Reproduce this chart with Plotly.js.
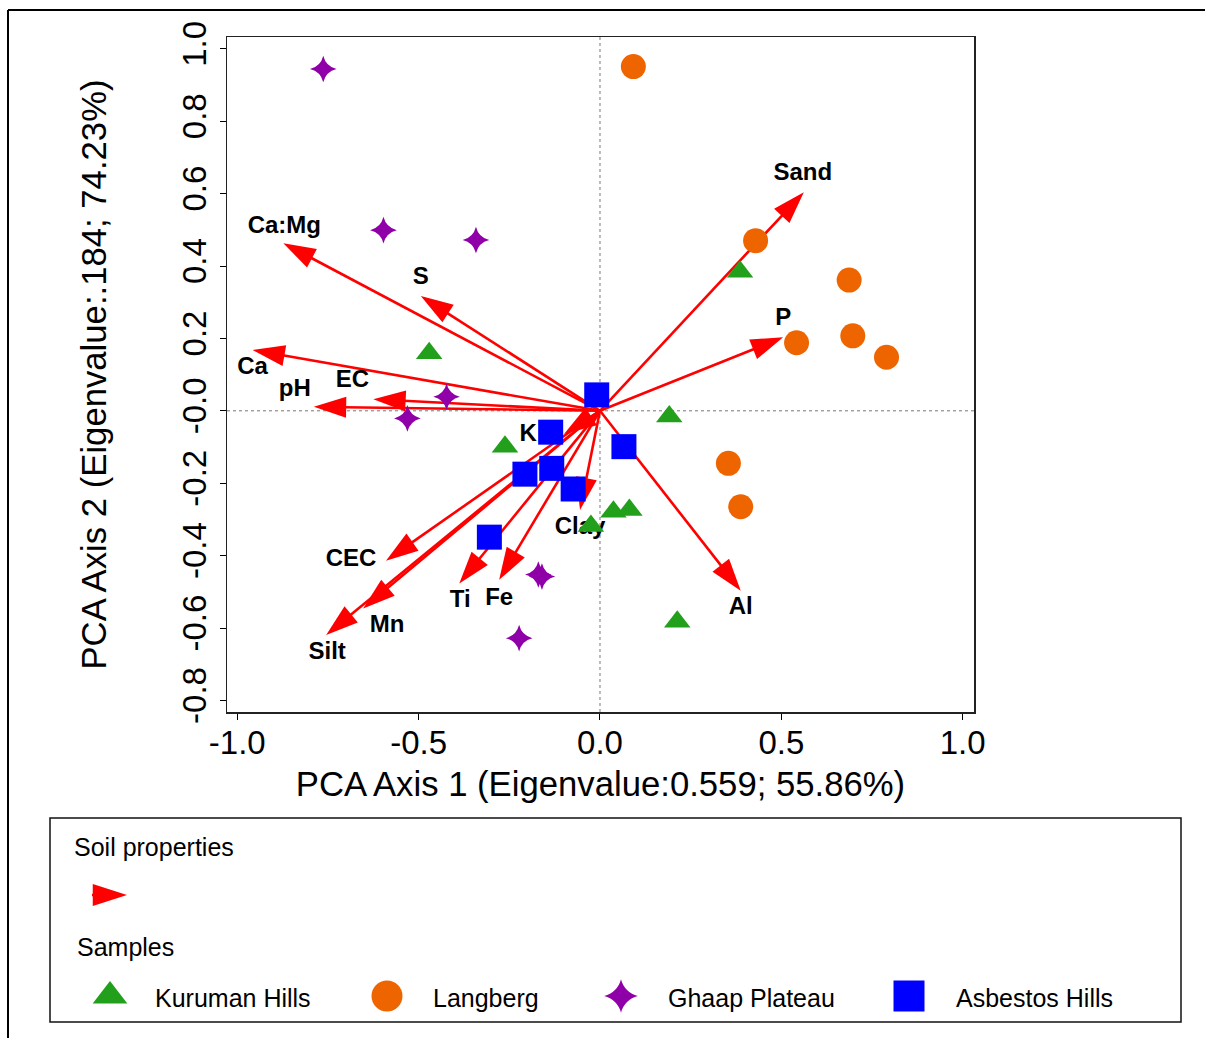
<!DOCTYPE html>
<html><head><meta charset="utf-8">
<script src="https://cdn.plot.ly/plotly-3.0.1.min.js"></script>
<style>html,body{margin:0;padding:0;background:#fff}#chart{width:1205px;height:1038px}</style>
</head><body><div id="chart"></div>
<script>
// ---------------- DATA ----------------
// Soil property vectors (biplot arrows): loadings on PCA axis 1 and 2
const propNames = ["Sand","P","Al","Ca:Mg","S","Ca","pH","EC","K","Clay","Fe","Ti","CEC","Mn","Silt"];
const propAxis1 = [0.562, 0.505, 0.388, -0.873, -0.494, -0.958, -0.789, -0.625, -0.099, -0.055, -0.278, -0.388, -0.590, -0.653, -0.755];
const propAxis2 = [0.604, 0.203, -0.497, 0.463, 0.317, 0.168, 0.011, 0.032, -0.064, -0.274, -0.467, -0.477, -0.414, -0.546, -0.619];

// Sample scores
const kurumanX = [0.386, -0.471, 0.191, -0.262, 0.037, 0.081, -0.025, 0.213];
const kurumanY = [0.384, 0.159, -0.016, -0.099, -0.279, -0.274, -0.318, -0.583];
const langbergX = [0.092, 0.429, 0.687, 0.542, 0.697, 0.790, 0.354, 0.388];
const langbergY = [0.951, 0.470, 0.361, 0.188, 0.207, 0.148, -0.145, -0.265];
const ghaapX = [-0.763, -0.597, -0.342, -0.423, -0.531, -0.170, -0.160, -0.223];
const ghaapY = [0.944, 0.499, 0.472, 0.039, -0.021, -0.452, -0.458, -0.628];
const asbestosX = [-0.009, -0.136, 0.066, -0.207, -0.133, -0.074, -0.305];
const asbestosY = [0.044, -0.059, -0.099, -0.175, -0.159, -0.216, -0.349];

const xTickVals = [-1.0, -0.5, 0.0, 0.5, 1.0];
const xTickText = ["-1.0", "-0.5", "0.0", "0.5", "1.0"];
const yTickVals = [-0.8, -0.6, -0.4, -0.2, 0.0, 0.2, 0.4, 0.6, 0.8, 1.0];
const yTickText = ["-0.8", "-0.6", "-0.4", "-0.2", "-0.0", "0.2", "0.4", "0.6", "0.8", "1.0"];

const xTitle = "PCA Axis 1 (Eigenvalue:0.559; 55.86%)";
const yTitle = "PCA Axis 2 (Eigenvalue:.184; 74.23%)";
const seriesNames = ["Kuruman Hills", "Langberg", "Ghaap Plateau", "Asbestos Hills"];
const legendHeadings = ["Soil properties", "Samples"];

// ---------------- STYLE / LAYOUT ----------------
const W = 1205, H = 1038;
const FONT = "Liberation Sans, Arial, Helvetica, sans-serif";
const plotPx = {l: 227, r: 974, t: 37, b: 712};
const xRange = [-1.0284, 1.0312];
const yRange = [-0.832, 1.0326];
const pxPerX = (plotPx.r - plotPx.l) / (xRange[1] - xRange[0]);
const pxPerY = (plotPx.b - plotPx.t) / (yRange[1] - yRange[0]);
const RED = "#FF0000";

// label offsets from arrow tips, in pixels (dx right, dy down)
const labelOffsetPx = [[-1,-18],[0,-18],[0,17],[1,-16],[0,-18],[0,18],[-19,-17],[-21,-18],[-36,1],[0,18],[0,19],[1,18],[-35,-1],[24,18],[1,18]];

const seriesStyle = [
  {color: "#22A01C", symbol: "triangle-up", size: 23, lsize: 30},
  {color: "#EE6500", symbol: "circle", size: 25, lsize: 31},
  {color: "#9000A8", symbol: "star-diamond", size: 19, lsize: 24},
  {color: "#0000FF", symbol: "square", size: 25, lsize: 31}
];
const seriesData = [[kurumanX, kurumanY],[langbergX, langbergY],[ghaapX, ghaapY],[asbestosX, asbestosY]];

// legend placement (pixels)
const legendBox = {x0: 50, x1: 1181, y0: 818, y1: 1022};
const legendMarkerX = [110, 387, 621, 909];
const legendMarkerY = 996;
const legendTextX = [153, 431, 666, 954];
const legendTextY = 998;

const traces = [];
// arrows
propNames.forEach((n, i) => {
  traces.push({
    type: "scatter", mode: "lines+markers",
    x: [0, propAxis1[i]], y: [0, propAxis2[i]],
    line: {color: RED, width: 2.6},
    marker: {symbol: "arrow", size: [0, 34], angleref: "previous", color: RED, opacity: 1, line: {width: 0}},
    opacity: 1,
    hoverinfo: "skip", showlegend: false, name: n
  });
});
// labels
traces.push({
  type: "scatter", mode: "text",
  x: propAxis1.map((v, i) => v + labelOffsetPx[i][0] / pxPerX),
  y: propAxis2.map((v, i) => v - labelOffsetPx[i][1] / pxPerY),
  text: propNames, textposition: "middle center",
  textfont: {family: FONT, size: 24, color: "#000", weight: "bold"},
  hoverinfo: "skip", showlegend: false
});
// samples
seriesNames.forEach((n, i) => {
  const s = seriesStyle[i];
  traces.push({
    type: "scatter", mode: "markers", name: n,
    x: seriesData[i][0], y: seriesData[i][1],
    marker: {symbol: s.symbol, size: s.size, color: s.color, opacity: 1, line: {width: 0}},
    showlegend: false
  });
});
// manual legend markers (pixel axes)
seriesNames.forEach((n, i) => {
  const s = seriesStyle[i];
  traces.push({
    type: "scatter", mode: "markers", xaxis: "x2", yaxis: "y2",
    x: [legendMarkerX[i]], y: [legendMarkerY],
    marker: {symbol: s.symbol, size: s.lsize, color: s.color, opacity: 1, line: {width: 0}},
    hoverinfo: "skip", showlegend: false, name: n
  });
});
// legend arrow
traces.push({
  type: "scatter", mode: "lines+markers", xaxis: "x2", yaxis: "y2",
  x: [92, 127], y: [895, 895],
  line: {color: RED, width: 2.6},
  marker: {symbol: "arrow", size: [0, 36], angleref: "previous", color: RED, opacity: 1, line: {width: 0}},
  hoverinfo: "skip", showlegend: false
});

const px2paperX = v => v / W;
const px2paperY = v => 1 - v / H;

const annotations = [
  {text: legendHeadings[0], x: px2paperX(72), y: px2paperY(847)},
  {text: legendHeadings[1], x: px2paperX(75), y: px2paperY(947)}
].concat(seriesNames.map((n, i) => ({text: n, x: px2paperX(legendTextX[i]), y: px2paperY(legendTextY)})))
 .map(a => Object.assign(a, {xref: "paper", yref: "paper", xanchor: "left", yanchor: "middle", showarrow: false, font: {family: FONT, size: 25, color: "#000"}}));

const axisCommon = {
  showgrid: false, zeroline: false, showline: true, mirror: true,
  linecolor: "#222", linewidth: 1.5, ticks: "outside", ticklen: 6, tickwidth: 1, tickcolor: "#000",
  tickfont: {family: FONT, size: 33, color: "#000"}, automargin: false
};

const layout = {
  width: W, height: H,
  margin: {l: 0, r: 0, t: 0, b: 0, pad: 0},
  paper_bgcolor: "#fff", plot_bgcolor: "rgba(0,0,0,0)",
  font: {family: FONT, color: "#000"},
  showlegend: false,
  xaxis: Object.assign({}, axisCommon, {
    domain: [plotPx.l / W, plotPx.r / W], range: xRange, anchor: "y",
    tickvals: xTickVals, ticktext: xTickText, ticklabelstandoff: -5,
    title: {text: xTitle, font: {family: FONT, size: 34.7, color: "#000"}, standoff: 11}
  }),
  yaxis: Object.assign({}, axisCommon, {
    domain: [1 - plotPx.b / H, 1 - plotPx.t / H], range: yRange, anchor: "x",
    tickvals: yTickVals, ticktext: yTickText, tickangle: -90,
    title: {text: yTitle, font: {family: FONT, size: 34.7, color: "#000"}, standoff: 59}
  }),
  xaxis2: {domain: [0, 1], range: [0, W], visible: false, anchor: "y2", fixedrange: true},
  yaxis2: {domain: [0, 1], range: [H, 0], visible: false, anchor: "x2", fixedrange: true},
  shapes: [
    {type: "line", xref: "x", yref: "y domain", x0: 0, x1: 0, y0: 0, y1: 1, line: {color: "#777", width: 1, dash: "dot"}, layer: "below"},
    {type: "line", xref: "x domain", yref: "y", x0: 0, x1: 1, y0: 0, y1: 0, line: {color: "#777", width: 1, dash: "dot"}, layer: "below"},
    {type: "rect", xref: "paper", yref: "paper", x0: px2paperX(legendBox.x0), x1: px2paperX(legendBox.x1), y0: px2paperY(legendBox.y1), y1: px2paperY(legendBox.y0), line: {color: "#111", width: 1.5}},
    {type: "line", xref: "paper", yref: "paper", x0: px2paperX(8), x1: 1, y0: px2paperY(10), y1: px2paperY(10), line: {color: "#000", width: 2}},
    {type: "line", xref: "paper", yref: "paper", x0: px2paperX(8), x1: px2paperX(8), y0: px2paperY(10), y1: 0, line: {color: "#000", width: 2}}
  ],
  annotations: annotations
};

Plotly.newPlot("chart", traces, layout, {staticPlot: true, displayModeBar: false});
</script>
</body></html>
